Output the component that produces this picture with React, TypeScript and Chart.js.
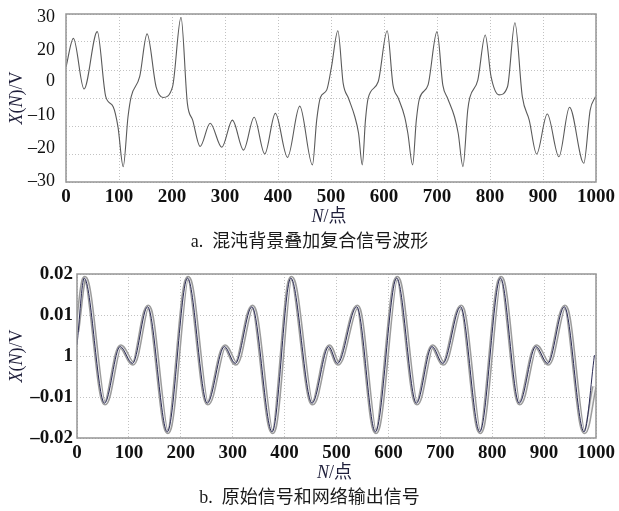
import React, { useEffect, useRef } from "react";
import { Chart, registerables } from "chart.js";

Chart.register(...registerables);

// ---------- data ----------
// a. chaotic background + composite signal
const chaosN = [
  0, 14, 34, 59, 75, 89, 98, 108, 117, 123, 139, 153, 170, 183, 201, 217, 229, 239, 253,
  272, 294, 314, 335, 355, 375, 395, 418, 441, 465, 473, 480, 492, 501, 513, 523, 533,
  545, 552, 559, 565, 570, 589, 606, 617, 627, 639, 645, 654, 661, 667, 683, 700, 711,
  720, 733, 740, 749, 758, 762, 777, 791, 802, 817, 833, 847, 861, 874, 888, 908, 930,
  950, 977, 989, 999,
];
const chaosV = [
  11, 21.3, 3.2, 23.7, 0.5, -3.1, -10.2, -24.5, -6.7, 0.5, 7.6, 22.9, 4, 0.2, 4, 28.8, -1.9, -7.9, -17.3,
  -9, -17.6, -7.9, -18.6, -6.9, -20, -5.5, -21.2, -2.9, -23.9, -7.9, 0.2, 2.9, 11.2, 24, 5.2, -0.1,
  -6.7, -12.6, -23.9, -7.9, -0.1, 5.8, 24, 4.6, -0.1, -6.7, -12.6, -23.9, -7.9, -0.1, 4.6, 23.7, 4.6,
  -0.1, -6.7, -12.6, -24.5, -4.3, 0.2, 6.4, 22.5, 7.6, 1.1, 4, 26.9, 0.5, -7.9, -20, -5.7, -21,
  -3.3, -23.3, -4.3, 0.5,
];

// b. original signal (dark) and network output (grey)
const origN = [
  0, 14, 53, 83, 107, 136, 174, 213, 251, 284, 305, 337, 376, 412, 453, 485, 502, 539, 575,
  616, 654, 684, 705, 739, 776, 816, 852, 884, 907, 939, 977, 997,
];
const origV = [
  0.0027, 0.019, -0.0115, 0.0023, -0.0018, 0.012, -0.0185, 0.019, -0.0115, 0.0023, -0.0018, 0.012, -0.0185,
  0.019, -0.0115, 0.0023, -0.0018, 0.012, -0.0185, 0.019, -0.0115, 0.0023, -0.0018, 0.012, -0.0185,
  0.019, -0.0115, 0.0023, -0.0018, 0.012, -0.0185, 0.0002,
];
const outN = [
  0, 15, 54, 84, 108, 137, 175, 214, 252, 285, 306, 338, 377, 413, 454, 486, 503, 540, 576,
  617, 655, 685, 706, 740, 777, 817, 853, 885, 908, 940, 978, 997,
];
const outV = [
  0.006, 0.019, -0.0115, 0.0023, -0.0018, 0.012, -0.0185, 0.019, -0.0115, 0.0023, -0.0018, 0.012, -0.0185,
  0.019, -0.0115, 0.0023, -0.0018, 0.012, -0.0185, 0.019, -0.0115, 0.0023, -0.0018, 0.012, -0.0185,
  0.019, -0.0115, 0.0023, -0.0018, 0.012, -0.0185, -0.0075,
];

// tick labels
const xTickValues = [0, 100, 200, 300, 400, 500, 600, 700, 800, 900, 1000];
const xTickLabels = ["0", "100", "200", "300", "400", "500", "600", "700", "800", "900", "1000"];
const yTickLabelsA = ["30", "20", "0", "\u201310", "\u201320", "\u201330"];
const yTickValuesA = [29, 17.1, 5.8, -6.1, -17.9, -29.9];
const yTickLabelsB = ["\u20130.02", "\u20130.01", "1", "0.01", "0.02"];
const yTickValuesB = [-0.02, -0.01, 0, 0.01, 0.02];

const captionA = "a.  混沌背景叠加复合信号波形";
const captionB = "b.  原始信号和网络输出信号";

// ---------- styling ----------
const SERIF = '"Liberation Serif", "Times New Roman", "Noto Sans CJK SC", serif';
const GRID_COLOR = "#c2c2c2";
const FRAME_COLOR = "#959595";
const TITLE_COLOR = "#1e1e3a";

type Part = { t: string; italic?: boolean };
const yTitleParts: Part[] = [
  { t: "X", italic: true },
  { t: "(" },
  { t: "N", italic: true },
  { t: ")/V" },
];
const xTitleParts: Part[] = [{ t: "N", italic: true }, { t: "/点" }];

function drawRich(
  ctx: CanvasRenderingContext2D,
  parts: Part[],
  cx: number,
  cy: number,
  size: number,
  color: string,
  rotate: boolean
) {
  ctx.save();
  ctx.translate(cx, cy);
  if (rotate) ctx.rotate(-Math.PI / 2);
  ctx.fillStyle = color;
  ctx.textBaseline = "middle";
  ctx.textAlign = "left";
  const fontOf = (p: Part) => `${p.italic ? "italic " : ""}${size}px ${SERIF}`;
  let w = 0;
  for (const p of parts) {
    ctx.font = fontOf(p);
    w += ctx.measureText(p.t).width;
  }
  let x = -w / 2;
  for (const p of parts) {
    ctx.font = fontOf(p);
    ctx.fillText(p.t, x, 0);
    x += ctx.measureText(p.t).width;
  }
  ctx.restore();
}

function makeDecorPlugin(caption: string) {
  return {
    id: "decor",
    afterDatasetsDraw(chart: any) {
      const { ctx, chartArea } = chart;
      ctx.save();
      ctx.strokeStyle = FRAME_COLOR;
      ctx.lineWidth = 1.5;
      ctx.strokeRect(
        chartArea.left,
        chartArea.top,
        chartArea.right - chartArea.left,
        chartArea.bottom - chartArea.top
      );
      ctx.restore();
    },
    afterDraw(chart: any) {
      const { ctx, chartArea, width } = chart;
      const midX = (chartArea.left + chartArea.right) / 2;
      const midY = (chartArea.top + chartArea.bottom) / 2;
      drawRich(ctx, yTitleParts, 17, midY, 18, TITLE_COLOR, true);
      drawRich(ctx, xTitleParts, midX - 2, chartArea.bottom + 35, 18, TITLE_COLOR, false);
      ctx.save();
      ctx.fillStyle = "#1a1a1a";
      ctx.font = `18px ${SERIF}`;
      ctx.textAlign = "center";
      ctx.textBaseline = "middle";
      ctx.fillText(caption, width / 2, chartArea.bottom + 60.5);
      ctx.restore();
    },
  };
}

const gridOpts = { color: GRID_COLOR, lineWidth: 1, drawTicks: false };
const borderOpts = { display: false, dash: [1, 2] };

function xScale() {
  return {
    type: "linear",
    min: 0,
    max: 1000,
    afterBuildTicks: (s: any) => {
      s.ticks = xTickValues.map((v) => ({ value: v }));
    },
    ticks: {
      autoSkip: false,
      maxRotation: 0,
      padding: 4,
      color: "#111",
      font: { family: SERIF, size: 19, weight: "bold" },
      callback: (_v: any, i: number) => xTickLabels[i],
    },
    grid: gridOpts,
    border: borderOpts,
    afterFit: (s: any) => {
      s.height = 73;
    },
  };
}

export default function App() {
  const topRef = useRef<HTMLCanvasElement | null>(null);
  const botRef = useRef<HTMLCanvasElement | null>(null);

  useEffect(() => {
    const top = new Chart(topRef.current as HTMLCanvasElement, {
      type: "line",
      data: {
        datasets: [
          {
            data: chaosN.map((n, i) => ({ x: n, y: chaosV[i] })),
            borderColor: "#5a5a5a",
            borderWidth: 1.1,
            pointRadius: 0,
            fill: false,
            cubicInterpolationMode: "monotone",
            yAxisID: "y",
          },
        ],
      },
      options: {
        animation: false,
        responsive: false,
        events: [],
        layout: { padding: { top: 14, right: 20, left: 0, bottom: 0 } },
        plugins: { legend: { display: false }, tooltip: { enabled: false } },
        scales: {
          x: xScale(),
          yg: {
            type: "linear",
            position: "left",
            min: -30,
            max: 30,
            ticks: { display: false, stepSize: 10 },
            grid: gridOpts,
            border: borderOpts,
            afterFit: (s: any) => {
              s.width = 0;
            },
          },
          y: {
            type: "linear",
            position: "left",
            weight: 1,
            min: -30,
            max: 30,
            afterBuildTicks: (s: any) => {
              s.ticks = yTickValuesA.map((v) => ({ value: v }));
            },
            ticks: {
              autoSkip: false,
              padding: 3,
              color: "#111",
              font: { family: SERIF, size: 18 },
              callback: (_v: any, i: number) => yTickLabelsA[i],
            },
            grid: { display: false },
            border: { display: false },
            afterFit: (s: any) => {
              s.width = 66;
            },
          },
        } as any,
      },
      plugins: [makeDecorPlugin(captionA)],
    } as any);

    const bot = new Chart(botRef.current as HTMLCanvasElement, {
      type: "line",
      data: {
        datasets: [
          {
            data: origN.map((n, i) => ({ x: n, y: origV[i] })),
            borderColor: "#2a2a55",
            borderWidth: 1,
            pointRadius: 0,
            fill: false,
            cubicInterpolationMode: "monotone",
          },
          {
            data: outN.map((n, i) => ({ x: n, y: outV[i] })),
            borderColor: "#f2f2f2",
            borderWidth: 1.8,
            pointRadius: 0,
            fill: false,
            cubicInterpolationMode: "monotone",
          },
          {
            data: outN.map((n, i) => ({ x: n, y: outV[i] })),
            borderColor: "#9c9c9c",
            borderWidth: 4.8,
            pointRadius: 0,
            fill: false,
            cubicInterpolationMode: "monotone",
          },
        ],
      },
      options: {
        animation: false,
        responsive: false,
        events: [],
        layout: { padding: { top: 19, right: 21, left: 0, bottom: 0 } },
        plugins: { legend: { display: false }, tooltip: { enabled: false } },
        scales: {
          x: xScale(),
          y: {
            type: "linear",
            position: "left",
            min: -0.02,
            max: 0.02,
            afterBuildTicks: (s: any) => {
              s.ticks = yTickValuesB.map((v) => ({ value: v }));
            },
            ticks: {
              autoSkip: false,
              padding: 4,
              color: "#111",
              font: { family: SERIF, size: 19, weight: "bold" },
              callback: (_v: any, i: number) => yTickLabelsB[i],
            },
            grid: gridOpts,
            border: borderOpts,
            afterFit: (s: any) => {
              s.width = 77;
            },
          },
        } as any,
      },
      plugins: [makeDecorPlugin(captionB)],
    } as any);

    return () => {
      top.destroy();
      bot.destroy();
    };
  }, []);

  return (
    <div style={{ position: "absolute", left: 0, top: 0, width: 619, height: 511, background: "#fff" }}>
      <canvas ref={topRef} width={619} height={255} style={{ display: "block", width: 619, height: 255 }} />
      <canvas ref={botRef} width={619} height={256} style={{ display: "block", width: 619, height: 256 }} />
    </div>
  );
}
